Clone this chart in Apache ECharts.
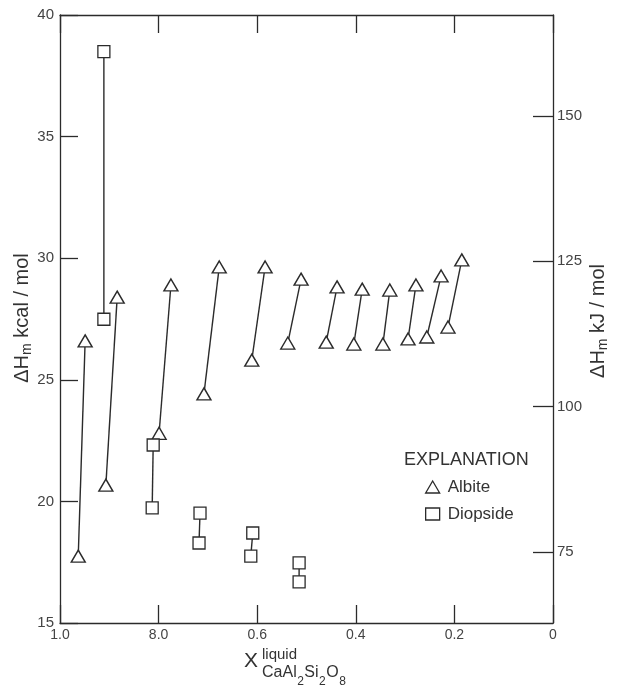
<!DOCTYPE html>
<html>
<head>
<meta charset="utf-8">
<script src="https://cdn.jsdelivr.net/npm/echarts@6/dist/echarts.min.js"></script>
<style>html,body{margin:0;padding:0;background:#fff}#c{width:622px;height:692px}</style>
</head>
<body>
<div id="c"></div>
<script>
// Albite: pairs of points (lower end, upper end), X = mole fraction CaAl2Si2O8 in liquid, Y = kcal/mol
const albiteLowX  = [0.963, 0.907, 0.799, 0.708, 0.611, 0.538, 0.460, 0.404, 0.345, 0.294, 0.256, 0.213];
const albiteLowY  = [17.75, 20.67, 22.80, 24.42, 25.81, 26.51, 26.55, 26.47, 26.47, 26.68, 26.76, 27.17];
const albiteHighX = [0.949, 0.884, 0.775, 0.677, 0.584, 0.511, 0.438, 0.387, 0.331, 0.278, 0.227, 0.185];
const albiteHighY = [26.60, 28.40, 28.90, 29.64, 29.64, 29.14, 28.82, 28.73, 28.69, 28.90, 29.27, 29.93];
// Diopside pairs
const diopsideUpX  = [0.911, 0.811, 0.716, 0.609, 0.515];
const diopsideUpY  = [38.49, 22.32, 19.52, 18.70, 17.47];
const diopsideLowX = [0.911, 0.813, 0.718, 0.613, 0.515];
const diopsideLowY = [27.49, 19.73, 18.29, 17.75, 16.69];
// Tick labels
const xTickValues = [1.0, 0.8, 0.6, 0.4, 0.2, 0];
const xTickLabels = ['1.0', '8.0', '0.6', '0.4', '0.2', '0'];
const kJTicks = [75, 100, 125, 150];
const KCAL_TO_KJ = 4.184;

const ink = '#2b2b2b';
const font = "'Liberation Sans', Arial, Helvetica, sans-serif";

const series = [];
albiteLowX.forEach((x, i) => {
  series.push({
    name: 'Albite', type: 'line', xAxisIndex: 0, yAxisIndex: 0,
    data: [[x, albiteLowY[i]], [albiteHighX[i], albiteHighY[i]]],
    symbol: 'triangle', symbolSize: [14, 12], showAllSymbol: true,
    itemStyle: {color: '#fff', borderColor: ink, borderWidth: 1.4},
    lineStyle: {color: ink, width: 1.4}, z: 3, silent: true, animation: false
  });
});
diopsideUpX.forEach((x, i) => {
  series.push({
    name: 'Diopside', type: 'line', xAxisIndex: 0, yAxisIndex: 0,
    data: [[x, diopsideUpY[i]], [diopsideLowX[i], diopsideLowY[i]]],
    symbol: 'rect', symbolSize: [12, 12], showAllSymbol: true,
    itemStyle: {color: '#fff', borderColor: ink, borderWidth: 1.3},
    lineStyle: {color: ink, width: 1.4}, z: 3, silent: true, animation: false
  });
});

// x-axis title pieces, laid out with measured widths
const ctx = document.createElement('canvas').getContext('2d');
function w(txt, size) { ctx.font = size + 'px ' + font; return ctx.measureText(txt).width; }
const subParts = [['CaAl', 16, false], ['2', 12, true], ['Si', 16, false], ['2', 12, true], ['O', 16, false], ['8', 12, true]];
const xTitle = [
  {type: 'text', x: 244, y: 661, style: {text: 'X', fontFamily: font, fontSize: 21, fill: '#333', verticalAlign: 'middle'}},
  {type: 'text', x: 262, y: 655, style: {text: 'liquid', fontFamily: font, fontSize: 15, fill: '#333', verticalAlign: 'middle'}}
];
let cx = 262;
subParts.forEach(([t, s, sub]) => {
  xTitle.push({type: 'text', x: cx, y: sub ? 682 : 673,
    style: {text: t, fontFamily: font, fontSize: s, fill: '#333', verticalAlign: 'middle'}});
  cx += w(t, s) + 0.5;
});

const axisLine = {show: true, onZero: false, lineStyle: {color: ink, width: 1.3}};
const chart = echarts.init(document.getElementById('c'), null, {renderer: 'canvas'});
chart.setOption({
  backgroundColor: '#fff',
  animation: false,
  textStyle: {fontFamily: font},
  grid: {left: 60, right: 69, top: 15, bottom: 69},
  title: {
    text: 'EXPLANATION', left: 399, top: 446,
    textStyle: {fontFamily: font, fontSize: 18, fontWeight: 'normal', color: '#333'}
  },
  legend: {
    orient: 'vertical', left: 420, top: 473, itemGap: 9,
    itemWidth: 14, itemHeight: 12,
    data: [{name: 'Albite', icon: 'triangle'}, {name: 'Diopside', icon: 'rect'}],
    itemStyle: {color: '#fff', borderColor: ink, borderWidth: 1.3},
    textStyle: {fontFamily: font, fontSize: 17, color: '#333', lineHeight: 18, padding: [0, 0, 0, 3]},
    selectedMode: false
  },
  xAxis: [{
    type: 'value', position: 'bottom', inverse: true, min: 0, max: 1, interval: 0.2,
    axisLine: axisLine,
    axisTick: {show: true, inside: true, length: 18, lineStyle: {color: ink, width: 1.3}},
    axisLabel: {
      show: true, margin: 5, fontSize: 14, color: '#444', fontFamily: font,
      formatter: v => { const k = xTickValues.findIndex(t => Math.abs(t - v) < 1e-6); return k >= 0 ? xTickLabels[k] : ''; }
    },
    splitLine: {show: false}
  }, {
    type: 'value', position: 'top', inverse: true, min: 0, max: 1, interval: 0.2,
    axisLine: axisLine,
    axisTick: {show: true, inside: true, length: 18, lineStyle: {color: ink, width: 1.3}},
    axisLabel: {show: false}, splitLine: {show: false}
  }],
  yAxis: [{
    type: 'value', position: 'left', min: 15, max: 40, interval: 5,
    axisLine: axisLine,
    axisTick: {show: true, inside: true, length: 18, lineStyle: {color: ink, width: 1.3}},
    axisLabel: {margin: 6, fontSize: 15, color: '#444', fontFamily: font},
    splitLine: {show: false}
  }, {
    type: 'value', position: 'right', min: 15 * KCAL_TO_KJ, max: 40 * KCAL_TO_KJ,
    axisLine: axisLine,
    axisTick: {show: true, inside: true, length: 20, customValues: kJTicks, lineStyle: {color: ink, width: 1.3}},
    axisLabel: {margin: 4, fontSize: 15, color: '#444', fontFamily: font, customValues: kJTicks},
    splitLine: {show: false}
  }],
  graphic: [
    {
      type: 'text', x: 22, y: 318, rotation: Math.PI / 2,
      style: {
        text: '{a|ΔH}{s|m}{a| kcal / mol}', align: 'center', verticalAlign: 'middle',
        rich: {
          a: {fontFamily: font, fontSize: 20, fill: '#333', lineHeight: 24, verticalAlign: 'middle'},
          s: {fontFamily: font, fontSize: 14, fill: '#333', lineHeight: 24, verticalAlign: 'bottom'}
        }
      }
    },
    {
      type: 'text', x: 598, y: 321, rotation: Math.PI / 2,
      style: {
        text: '{a|ΔH}{s|m}{a| kJ / mol}', align: 'center', verticalAlign: 'middle',
        rich: {
          a: {fontFamily: font, fontSize: 20, fill: '#333', lineHeight: 24, verticalAlign: 'middle'},
          s: {fontFamily: font, fontSize: 14, fill: '#333', lineHeight: 24, verticalAlign: 'bottom'}
        }
      }
    }
  ].concat(xTitle),
  series: series
});
</script>
</body>
</html>
